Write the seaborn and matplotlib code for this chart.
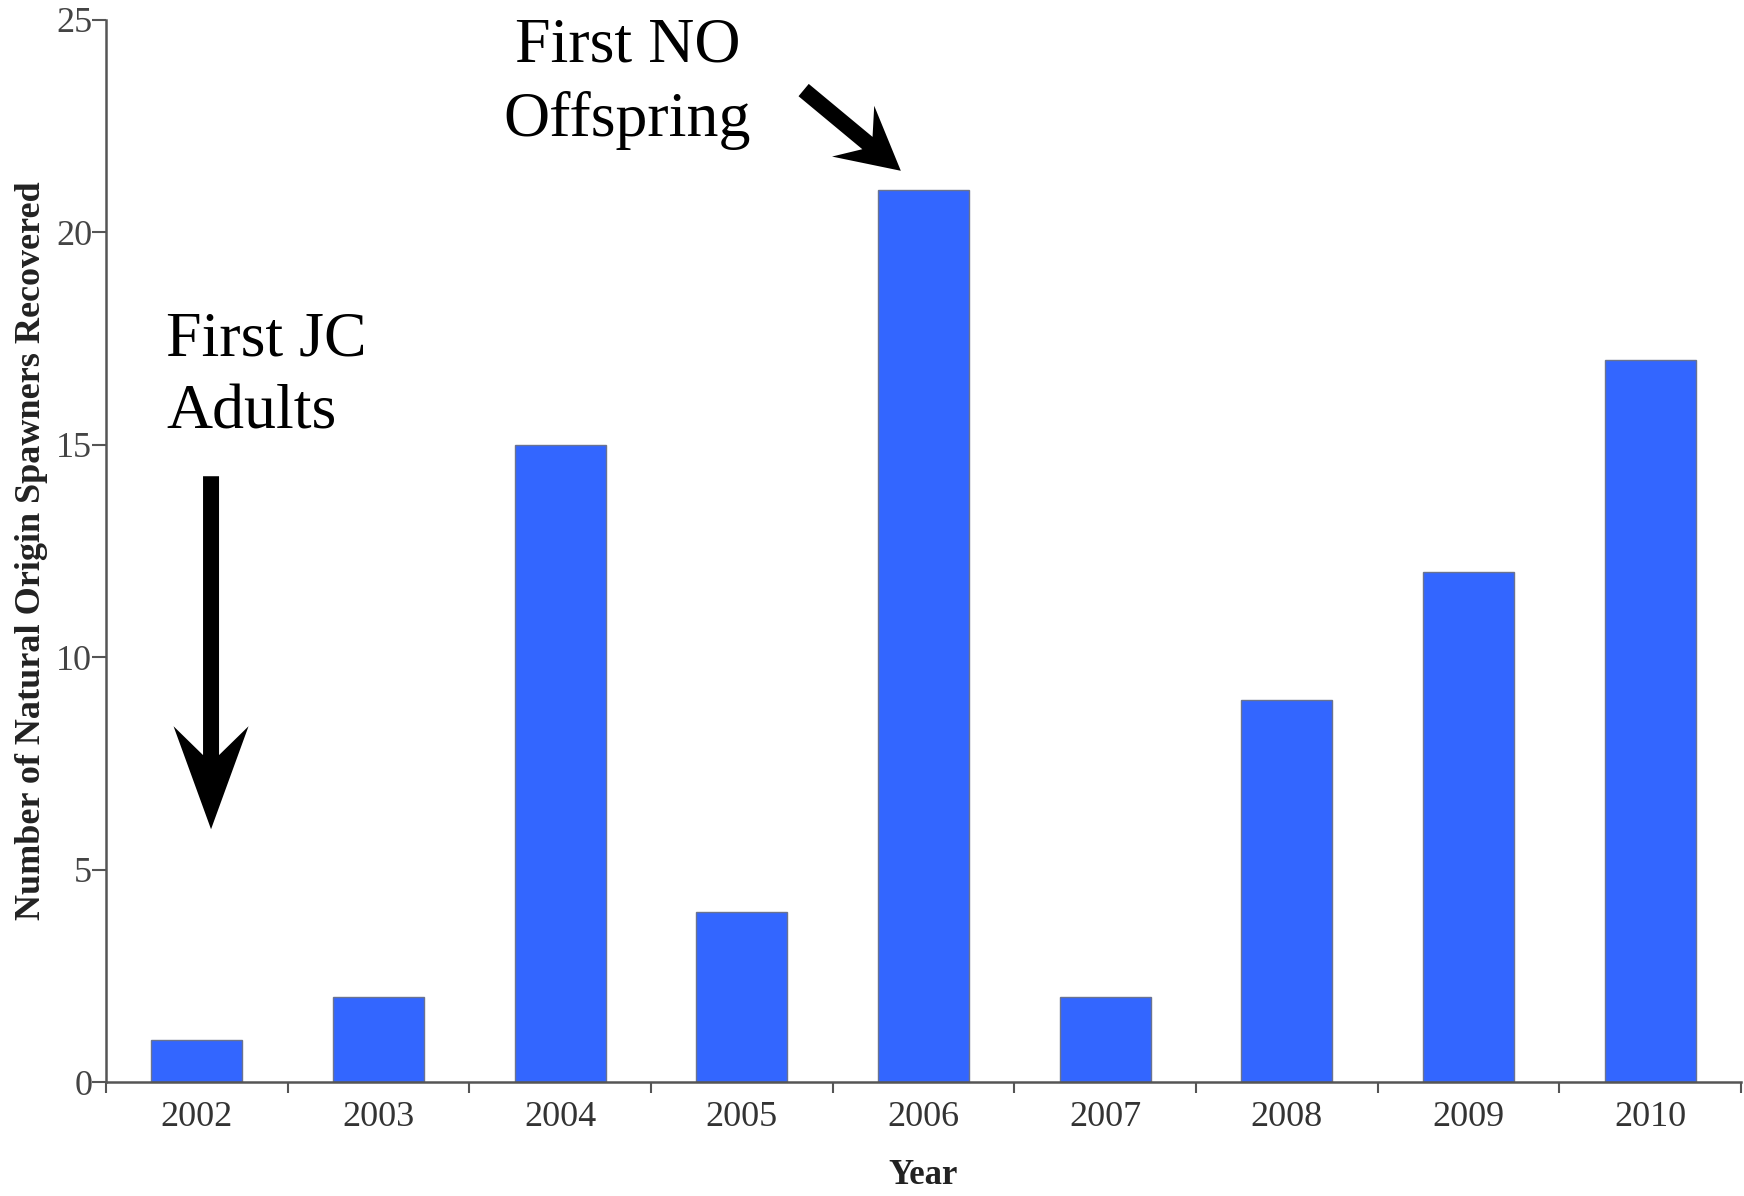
#bar chart of natural origin spawners recovered per year
import matplotlib.pyplot as plt
import matplotlib.patches as mpatches
import matplotlib.transforms as mtransforms
import seaborn as sns
import numpy as np
import pandas as pd

sns.set_style("ticks")
plt.rcParams['font.family'] = ['Liberation Serif', 'DejaVu Serif']

years = ["2002", "2003", "2004", "2005", "2006", "2007", "2008", "2009", "2010"]
spawners = [1, 2, 15, 4, 21, 2, 9, 12, 17]

def notched_arrow(ax, tail, tip, shaft_w, head_len, head_w, notch):
    """Builds an arrow polygon in pixel space from two data points."""
    t = ax.transData.transform(tail)
    p = ax.transData.transform(tip)
    u = (p - t) / np.linalg.norm(p - t)
    n = np.array([-u[1], u[0]])
    join = p - u * head_len * notch
    back = p - u * head_len
    pts = [t + n * shaft_w / 2, join + n * shaft_w / 2, back + n * head_w / 2, p,
           back - n * head_w / 2, join - n * shaft_w / 2, t - n * shaft_w / 2]
    poly = mpatches.Polygon(pts, closed=True, facecolor="black", edgecolor="black",
                            linewidth=0, transform=mtransforms.IdentityTransform())
    ax.figure.add_artist(poly)

df = pd.DataFrame({"Year": years, "count": spawners})

fig = plt.figure(figsize=(17.44, 11.96), dpi=100)
ax = fig.add_axes([0.0608, 0.0953, 0.9375, 0.888])

sns.barplot(x="Year", y="count", data=df, color="#3366ff", saturation=1,
            width=0.5, edgecolor="#6a7390", linewidth=1, ax=ax)

ax.set_xlim(-0.5, len(years) - 0.5)
ax.set_ylim(0, 25)
ax.set_yticks(np.arange(0, 26, 5))
sns.despine(ax=ax)
for s in ["left", "bottom"]:
    ax.spines[s].set_color("#555555")
    ax.spines[s].set_linewidth(1.8)

#ticks between categories, labels centred under bars
ax.set_xticks(np.arange(-0.5, len(years), 1), minor=True)
ax.tick_params(axis="x", which="major", length=0, labelsize=26, labelcolor="#333333", pad=14)
ax.tick_params(axis="x", which="minor", length=8, width=1.5, color="#555555", direction="out")
ax.tick_params(axis="y", length=10, width=1.5, color="#555555", labelsize=26,
               labelcolor="#444444", pad=0)

ax.set_xlabel("Year", fontsize=25, fontweight="bold", color="#222222", labelpad=18)
ax.set_ylabel("Number of Natural Origin Spawners Recovered", fontsize=26,
              fontweight="bold", color="#222222", labelpad=6)

ax.text(-0.17, 16.6, "First JC\nAdults", fontsize=46, ha="left", va="center",
        linespacing=1.35, color="black", clip_on=False)
ax.text(2.37, 23.5, "First NO\nOffspring", fontsize=46, ha="center", va="center",
        linespacing=1.35, color="black", clip_on=False)

notched_arrow(ax, (0.078, 14.26), (0.078, 5.95), 16, 103, 75, 0.72)
notched_arrow(ax, (3.34, 23.35), (3.875, 21.45), 16, 62, 66, 0.7)

plt.savefig("out.png", dpi=100)
